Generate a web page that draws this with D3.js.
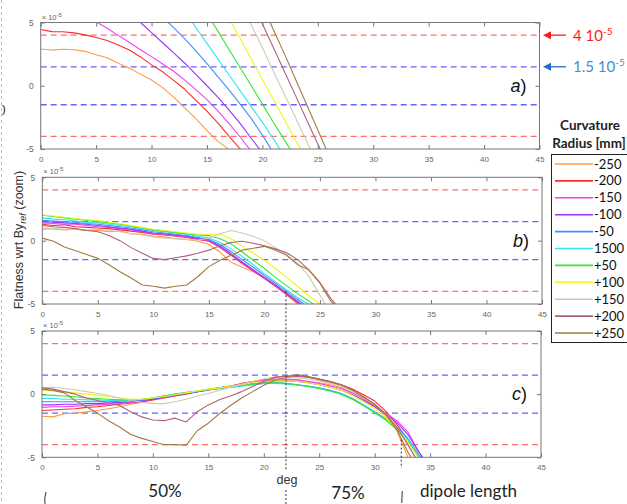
<!DOCTYPE html>
<html><head><meta charset="utf-8">
<script src="https://cdn.jsdelivr.net/npm/d3@7"></script>
<style>body{margin:0;background:#fff;} svg{display:block;font-family:"Liberation Sans",Arial,sans-serif;}</style>
</head><body>
<svg id="c" width="627" height="504"></svg>
<script>
// ---------- data (values in units of 1e-5, x in deg, step 1 from start) ----------
const radii = ["-250","-200","-150","-100","-50","1500","+50","+100","+150","+200","+250"];
const xTicks = [0,5,10,15,20,25,30,35,40,45];
const yTicks = [-5,0,5];
const limitValues = [4,1.5,-1.5,-4];
const panelLabels = ["a","b","c"];
const annotLabels = ["4 10","1.5 10"];

const xStartA = [0,0,5,8,11,13,15,17,18,19,20];
const panelA = [
  [2.9,2.82,2.88,2.84,2.72,2.45,2.22,1.78,1.38,0.92,0.45,-0.15,-0.9,-1.75,-2.6,-3.55,-4.4,-5.05,-5.8],
  [4.45,4.28,4.27,4.18,4.02,3.82,3.58,3.22,2.82,2.28,1.65,1.1,0.42,-0.28,-1.15,-2.0,-2.95,-4.0,-5.0,-6.0],
  [5.05,4.55,3.98,3.42,2.85,2.3,1.72,1.15,0.45,-0.3,-1.1,-2.0,-3.0,-4.05,-5.2],
  [5.8,5.0,4.2,3.4,2.6,1.78,0.9,0.0,-0.92,-1.92,-3.0,-4.15,-5.3],
  [5.4,4.6,3.7,2.75,1.75,0.7,-0.35,-1.45,-2.6,-3.9,-5.3],
  [5.9,4.6,3.35,2.1,0.85,-0.4,-1.65,-2.9,-4.2,-5.6],
  [5.7,4.3,2.85,1.42,0.0,-1.45,-2.9,-4.3,-5.7],
  [5.3,3.75,2.1,0.5,-1.1,-2.7,-4.3,-5.9],
  [6.6,4.8,3.0,1.15,-0.7,-2.55,-4.4,-6.2],
  [6.8,4.9,3.0,1.1,-0.8,-2.7,-4.6,-6.5],
  [6.4,4.4,2.5,0.5,-1.5,-3.5,-5.5]
];
const panelB = [
  [0.9,0.95,0.85,0.9,0.8,0.8,0.7,0.75,0.55,0.5,0.35,0.3,0.15,0.1,-0.05,-0.3,-0.9,-1.7,-2.1,-2.45,-2.9,-3.5,-4.3,-5.0,-5.8],
  [1.3,1.2,1.25,1.1,1.05,1.0,0.95,0.85,0.75,0.65,0.5,0.45,0.35,0.25,0.1,-0.05,-0.55,-1.15,-1.8,-2.4,-3.0,-3.6,-4.25,-4.9,-5.6],
  [1.4,1.35,1.3,1.3,1.2,1.1,1.05,0.95,0.85,0.7,0.55,0.5,0.4,0.3,0.15,0.0,-0.5,-1.1,-1.75,-2.35,-2.95,-3.55,-4.2,-4.85,-5.5],
  [1.5,1.45,1.4,1.35,1.3,1.2,1.1,1.0,0.9,0.75,0.6,0.55,0.45,0.35,0.2,0.05,-0.42,-1.02,-1.68,-2.3,-2.92,-3.5,-4.15,-4.8,-5.45],
  [1.6,1.55,1.5,1.45,1.35,1.3,1.2,1.1,1.0,0.85,0.7,0.6,0.5,0.4,0.25,0.1,-0.3,-0.85,-1.5,-2.1,-2.75,-3.35,-4.0,-4.65,-5.3],
  [1.8,1.7,1.65,1.55,1.45,1.4,1.3,1.2,1.1,0.95,0.8,0.7,0.6,0.5,0.35,0.2,-0.15,-0.65,-1.25,-1.9,-2.6,-3.25,-3.9,-4.5,-5.05,-5.6],
  [2.0,1.9,1.8,1.7,1.6,1.5,1.4,1.3,1.15,1.0,0.85,0.75,0.65,0.55,0.45,0.4,0.15,-0.25,-0.9,-1.55,-2.2,-2.9,-3.55,-4.2,-4.75,-5.4],
  [2.05,1.95,1.85,1.75,1.65,1.6,1.45,1.35,1.2,1.05,0.9,0.8,0.7,0.6,0.5,0.5,0.5,0.15,-0.45,-1.0,-1.55,-2.2,-2.9,-3.6,-4.35,-5.0,-5.7],
  [1.0,0.95,0.9,0.9,0.85,0.9,0.8,0.7,0.55,0.45,0.3,0.2,0.15,0.1,0.05,0.2,0.55,0.8,0.6,0.35,0.0,-0.55,-1.1,-1.8,-2.8,-4.3,-5.8],
  [1.2,1.1,1.05,0.95,0.8,0.7,0.4,0.0,-0.55,-1.0,-1.4,-1.5,-1.35,-1.2,-1.0,-0.75,-0.4,-0.15,-0.05,-0.2,-0.4,-0.65,-0.95,-1.5,-2.3,-3.3,-4.6,-5.6],
  [0.2,-0.05,-0.5,-0.8,-1.1,-1.4,-1.9,-2.45,-2.95,-3.5,-3.6,-3.75,-3.6,-3.5,-2.85,-2.05,-1.55,-1.15,-0.75,-0.6,-0.45,-0.75,-1.15,-1.9,-2.3,-3.35,-4.8,-5.6]
];
const panelC = [
  [-1.75,-1.8,-1.55,-1.5,-1.4,-1.3,-1.15,-1.0,-0.8,-0.65,-0.45,-0.25,-0.1,0.05,0.2,0.3,0.5,0.65,0.8,0.95,1.05,1.1,1.15,1.1,1.0,0.9,0.75,0.5,0.1,-0.4,-0.95,-1.7,-2.9,-5.0,-6.0],
  [-1.3,-1.25,-1.2,-1.15,-1.05,-1.0,-0.9,-0.8,-0.7,-0.6,-0.45,-0.3,-0.15,0.0,0.2,0.35,0.5,0.65,0.85,1.0,1.15,1.35,1.4,1.5,1.35,1.2,1.0,0.75,0.4,-0.05,-0.55,-1.35,-2.4,-3.6,-5.1],
  [-1.05,-1.0,-1.0,-0.95,-0.9,-0.85,-0.8,-0.75,-0.65,-0.55,-0.4,-0.25,-0.1,0.05,0.2,0.35,0.5,0.65,0.8,0.95,1.1,1.2,1.2,1.15,1.0,0.85,0.65,0.45,0.1,-0.35,-0.9,-1.5,-2.1,-3.0,-4.6,-5.8],
  [-0.85,-0.85,-0.8,-0.8,-0.75,-0.75,-0.7,-0.65,-0.6,-0.5,-0.4,-0.25,-0.1,0.05,0.2,0.35,0.45,0.6,0.75,0.85,0.95,1.05,1.05,1.0,0.9,0.75,0.55,0.3,-0.05,-0.5,-1.0,-1.6,-2.25,-3.2,-4.6,-5.8],
  [-0.6,-0.6,-0.6,-0.6,-0.6,-0.6,-0.6,-0.55,-0.5,-0.45,-0.35,-0.2,-0.05,0.1,0.2,0.35,0.45,0.55,0.65,0.75,0.85,0.9,0.85,0.75,0.65,0.5,0.3,0.05,-0.35,-0.85,-1.4,-1.95,-2.6,-3.5,-4.8,-5.8],
  [-0.35,-0.35,-0.4,-0.4,-0.45,-0.45,-0.5,-0.5,-0.45,-0.4,-0.3,-0.15,0.0,0.1,0.25,0.35,0.45,0.55,0.65,0.75,0.85,0.85,0.8,0.7,0.6,0.45,0.25,0.0,-0.4,-0.9,-1.45,-2.0,-2.7,-3.6,-4.9,-5.8],
  [-0.05,-0.1,-0.15,-0.2,-0.3,-0.35,-0.4,-0.45,-0.45,-0.4,-0.3,-0.15,0.0,0.15,0.25,0.4,0.5,0.6,0.7,0.8,0.9,0.9,0.85,0.75,0.6,0.45,0.25,0.0,-0.4,-0.9,-1.45,-2.05,-2.8,-3.8,-5.0,-5.8],
  [0.3,0.25,0.2,0.1,0.0,-0.1,-0.2,-0.3,-0.4,-0.4,-0.3,-0.2,-0.05,0.1,0.25,0.4,0.5,0.65,0.75,0.9,1.0,1.05,1.05,1.0,0.9,0.75,0.55,0.3,-0.1,-0.6,-1.15,-1.85,-2.7,-3.8,-5.1],
  [0.5,0.55,0.45,0.35,0.2,0.05,-0.1,-0.3,-0.5,-0.65,-0.75,-0.75,-0.6,-0.4,-0.15,0.05,0.3,0.55,0.8,1.0,1.2,1.3,1.35,1.3,1.2,1.05,0.85,0.6,0.2,-0.3,-0.85,-1.6,-2.6,-4.0,-5.6],
  [0.5,0.4,0.2,0.0,-0.3,-0.5,-0.7,-0.9,-1.4,-1.8,-2.05,-2.1,-1.9,-2.2,-1.4,-0.85,-0.45,-0.15,0.2,0.6,1.0,1.3,1.45,1.4,1.35,1.15,0.95,0.7,0.3,-0.25,-0.8,-1.6,-2.6,-4.0,-5.5],
  [0.4,0.3,0.1,-0.5,-1.0,-1.5,-2.1,-2.6,-3.2,-3.5,-3.75,-4.0,-4.0,-4.05,-2.9,-2.3,-1.55,-0.9,-0.3,0.2,0.7,1.1,1.3,1.55,1.4,1.2,1.0,0.75,0.35,-0.2,-0.8,-1.6,-2.8,-4.6,-6.0]
];

// ---------- styles ----------
const colors = ["#ff9a3c","#ff2a2a","#f040f0","#9933ff","#3f8fff","#2ee6f0","#33e633","#f2f21e","#cfcbb0","#b0607a","#a37a42"];
const limitColor = v => Math.abs(v) > 3 ? "#ff6f6f" : "#6464ff";
const uiFont = "Lato, 'Liberation Sans', sans-serif";

const svg = d3.select("#c");
const panels = [
  {data: panelA, starts: xStartA, l:40.7, r:539.5, t:22.5, b:149},
  {data: panelB, starts: null, l:42.3, r:542, t:177.3, b:304},
  {data: panelC, starts: null, l:42, r:541, t:331, b:457.3}
];

panels.forEach((p, pi) => {
  const x = d3.scaleLinear().domain([0,45]).range([p.l,p.r]);
  const y = d3.scaleLinear().domain([-5,5]).range([p.b,p.t]);
  p.x = x; p.y = y;
  const g = svg.append("g");
  const cid = "clip" + pi;
  svg.append("clipPath").attr("id", cid).append("rect")
    .attr("x", p.l).attr("y", p.t).attr("width", p.r-p.l).attr("height", p.b-p.t);

  g.selectAll(".lim").data(limitValues).join("line")
    .attr("x1", x(0)).attr("x2", x(45))
    .attr("y1", d => y(d)).attr("y2", d => y(d))
    .attr("stroke", d => limitColor(d)).attr("stroke-width", 1.3)
    .attr("stroke-dasharray", "6,4");

  const line = d3.line().x(d => x(d[0])).y(d => y(d[1]));
  const lg = g.append("g").attr("clip-path", `url(#${cid})`);
  p.data.forEach((vals, si) => {
    const x0 = p.starts ? p.starts[si] : 0;
    const pts = vals.map((v, i) => [x0 + i, v]);
    lg.append("path").datum(pts).attr("d", line)
      .attr("fill", "none").attr("stroke", colors[si]).attr("stroke-width", 1.1)
      .attr("stroke-linejoin", "round");
  });

  const fmt = d => String(d);
  const axB = g.append("g").attr("transform", `translate(0,${p.b})`)
    .call(d3.axisBottom(x).tickValues(xTicks).tickFormat(fmt).tickSizeInner(-4).tickSizeOuter(0).tickPadding(7));
  const axT = g.append("g").attr("transform", `translate(0,${p.t})`)
    .call(d3.axisTop(x).tickValues(xTicks).tickFormat("").tickSizeInner(-4).tickSizeOuter(0));
  const axL = g.append("g").attr("transform", `translate(${p.l},0)`)
    .call(d3.axisLeft(y).tickValues(yTicks).tickFormat(fmt).tickSizeInner(-4).tickSizeOuter(0).tickPadding(7));
  const axR = g.append("g").attr("transform", `translate(${p.r},0)`)
    .call(d3.axisRight(y).tickValues(yTicks).tickFormat("").tickSizeInner(-4).tickSizeOuter(0));
  [axB, axT, axL, axR].forEach(a => {
    a.select(".domain").remove();
    a.selectAll("line").attr("stroke", "#777");
    a.selectAll("text").attr("fill", "#666").style("font-size", "8.5px").attr("font-family", "Liberation Sans, Arial, sans-serif");
  });
  axB.selectAll("text").style("font-size", "8px");

  g.append("rect").attr("x", p.l).attr("y", p.t).attr("width", p.r-p.l).attr("height", p.b-p.t)
    .attr("fill", "none").attr("stroke", "#777").attr("stroke-width", 1);

  const ex = g.append("text").attr("x", p.l + 1).attr("y", p.t - 3)
    .attr("fill", "#666").style("font-size", "7.5px");
  ex.append("tspan").text("\u00d7 10");
  ex.append("tspan").attr("dy", -3).style("font-size", "6px").text("-5");

  const pl = g.append("text").attr("x", p.r - 29).attr("y", y(0) + 6)
    .attr("fill", "#111").style("font-size", "18px").attr("font-family", "Liberation Sans, Arial, sans-serif");
  pl.append("tspan").attr("font-style", "italic").text(panelLabels[pi]);
  pl.append("tspan").text(")");
});

// ---------- right annotations ----------
const pa = panels[0];
[[4, "#ff1a1a", "#ff1a1a", annotLabels[0]], [1.5, "#3d8fdc", "#1f6fc8", annotLabels[1]]].forEach(([v, tc, ac, lab]) => {
  const yy = pa.y(v);
  svg.append("line").attr("x1", 549).attr("x2", 566).attr("y1", yy).attr("y2", yy)
    .attr("stroke", ac).attr("stroke-width", 1.3);
  svg.append("path").attr("d", `M543,${yy} L551,${yy-4} L551,${yy+4} Z`).attr("fill", ac);
  const t = svg.append("text").attr("x", 573).attr("y", yy + 5.5).attr("fill", tc)
    .style("font-size", "15px").attr("font-family", uiFont);
  t.append("tspan").text(lab);
  t.append("tspan").attr("dy", -6).style("font-size", "10px").text("-5");
});

// ---------- legend ----------
svg.append("text").attr("x", 590).attr("y", 130).attr("text-anchor", "middle").attr("fill", "#222")
  .style("font-size", "13.5px").style("font-weight", "bold").attr("font-family", uiFont).text("Curvature");
svg.append("text").attr("x", 589).attr("y", 148).attr("text-anchor", "middle").attr("fill", "#222")
  .style("font-size", "13.5px").style("font-weight", "bold").attr("font-family", uiFont).text("Radius [mm]");
svg.append("rect").attr("x", 551.5).attr("y", 154.5).attr("width", 90).attr("height", 188)
  .attr("fill", "#fff").attr("stroke", "#222").attr("stroke-width", 1);
const ly = d3.scalePoint().domain(radii).range([164, 333]);
radii.forEach((r, i) => {
  svg.append("line").attr("x1", 555).attr("x2", 593).attr("y1", ly(r)).attr("y2", ly(r))
    .attr("stroke", colors[i]).attr("stroke-width", 1.6);
  svg.append("text").attr("x", 594).attr("y", ly(r) + 4.5).attr("fill", "#111")
    .style("font-size", "13px").attr("font-family", uiFont).text(r);
});

// ---------- y-axis label ----------
const yl = svg.append("text").attr("transform", "translate(23,240) rotate(-90)").attr("text-anchor", "middle")
  .attr("fill", "#333").style("font-size", "12.5px");
yl.append("tspan").text("Flatness wrt By");
yl.append("tspan").attr("dy", 3).style("font-size", "9px").attr("font-style", "italic").text("ref");
yl.append("tspan").attr("dy", -3).text(" (zoom)");

svg.append("line").attr("x1", 1.5).attr("x2", 1.5).attr("y1", 0).attr("y2", 504)
  .attr("stroke", "#bbb").attr("stroke-dasharray", "3,3");
svg.append("text").attr("x", 2).attr("y", 113).attr("fill", "#111").style("font-size", "11px").text(")");

// ---------- bottom annotations ----------
const pc = panels[2];
const xd1 = pc.x(22), xd2 = pc.x(32.4);
svg.append("line").attr("x1", xd1).attr("x2", xd1).attr("y1", panels[1].y(-4)).attr("y2", 470)
  .attr("stroke", "#333").attr("stroke-dasharray", "2,2");
svg.append("line").attr("x1", xd1).attr("x2", xd1).attr("y1", 490).attr("y2", 504)
  .attr("stroke", "#333").attr("stroke-dasharray", "2,2");
svg.append("line").attr("x1", xd2).attr("x2", xd2).attr("y1", pc.y(-3.6)).attr("y2", 468)
  .attr("stroke", "#333").attr("stroke-dasharray", "2,2");
svg.append("line").attr("x1", xd2 + 1).attr("x2", xd2 + 0.5).attr("y1", 491).attr("y2", 503)
  .attr("stroke", "#333").attr("stroke-width", 1);
svg.append("path").attr("d", "M46,492 Q44,498 45,504").attr("fill", "none").attr("stroke", "#333").attr("stroke-width", 1);
svg.append("text").attr("x", xd1 + 1).attr("y", 484).attr("text-anchor", "middle").attr("fill", "#333")
  .style("font-size", "12.5px").text("deg");
const bt = [["50%", 165, 497, "middle"], ["75%", 348, 499, "middle"], ["dipole length", 420, 497, "start"]];
bt.forEach(([t, xx, yy, an]) => svg.append("text").attr("x", xx).attr("y", yy).attr("text-anchor", an)
  .attr("fill", "#222").style("font-size", "17px").attr("font-family", uiFont).text(t));
</script>
</body></html>
